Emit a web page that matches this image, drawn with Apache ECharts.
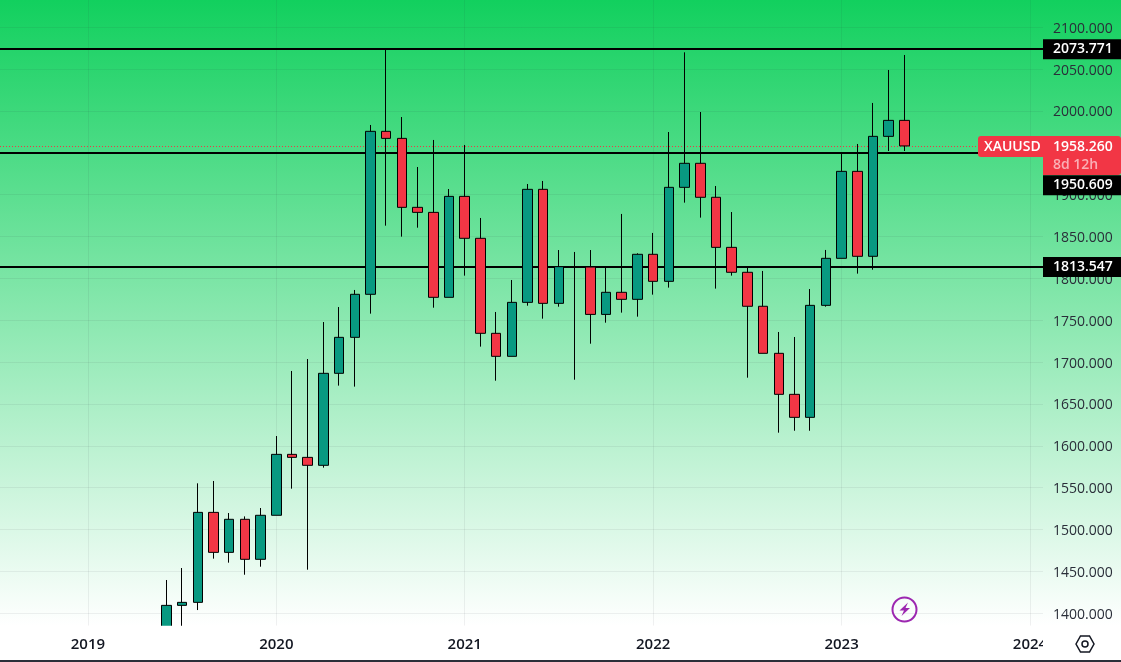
<!DOCTYPE html>
<html>
<head>
<meta charset="utf-8">
<style>html,body{margin:0;padding:0;background:#fff}#chart{width:1121px;height:662px}</style>
<script src="https://cdn.jsdelivr.net/npm/echarts@6/dist/echarts.min.js"></script>
</head>
<body>
<div id="chart"></div>
<script>
// XAUUSD monthly candles
const months = ['2019-06','2019-07','2019-08','2019-09','2019-10','2019-11','2019-12',
  '2020-01','2020-02','2020-03','2020-04','2020-05','2020-06','2020-07','2020-08','2020-09','2020-10','2020-11','2020-12',
  '2021-01','2021-02','2021-03','2021-04','2021-05','2021-06','2021-07','2021-08','2021-09','2021-10','2021-11','2021-12',
  '2022-01','2022-02','2022-03','2022-04','2022-05','2022-06','2022-07','2022-08','2022-09','2022-10','2022-11','2022-12',
  '2023-01','2023-02','2023-03','2023-04','2023-05'];
const opens = [1305,1409.4,1413,1520.5,1472.7,1512.2,1464.4,
  1517,1589.8,1586.2,1576.7,1686.6,1729.6,1781,1975.7,1967.3,1884.9,1878.9,1777.4,
  1898,1847.9,1734.4,1706.9,1771.4,1906.4,1770.2,1814,1813.6,1757,1783.4,1775,
  1828.8,1796.5,1908.8,1937.5,1896.9,1837.1,1807.3,1766.7,1710.5,1661.5,1634,1767.8,
  1824,1927.9,1826.4,1969.7,1988.8];
const closes = [1409.4,1413,1520.5,1472.7,1512.2,1464.4,1517,
  1589.8,1586.2,1576.7,1686.6,1729.6,1781,1975.7,1967.3,1884.9,1878.9,1777.4,1898,
  1847.9,1734.4,1706.9,1771.4,1906.4,1770.2,1814,1813.6,1757,1783.4,1775,1828.8,
  1796.5,1908.8,1937.5,1896.9,1837.1,1807.3,1766.7,1710.5,1661.5,1634,1767.8,1824,
  1927.9,1826.4,1969.7,1988.8,1958.26];
const lows = [1296,1381,1403.8,1465.2,1460.4,1446,1455.6,
  1517,1548.8,1452,1573.9,1671.9,1670.7,1757.9,1863,1849.9,1860.6,1765,1777.4,
  1803.3,1718.5,1677.8,1706.9,1767.4,1751.9,1766.2,1679,1722,1747.1,1759.1,1754.3,
  1780.6,1789,1890.5,1872.6,1787.8,1803.3,1681.4,1710.5,1615.7,1618,1618,1766.2,
  1824,1805.7,1810.4,1952.2,1952.2];
const highs = [1439.7,1454,1555.2,1558,1519.7,1515.7,1525.7,
  1611.7,1689.4,1703.7,1747.9,1765.8,1786.2,1983.3,2074,1992.8,1933.1,1965.4,1906.8,
  1959.4,1872.2,1759.9,1798.1,1912.8,1916.4,1833.9,1831.6,1833.9,1813.6,1877,1830,
  1854.3,1974.9,2070.1,1998.8,1910.4,1879.3,1813.6,1808.9,1736,1730,1787.3,1834,
  1951,1960.6,2009.6,2049,2066.9];
const yearLabels = ['2019','2020','2021','2022','2023','2024'];
const priceTicks = [1400,1450,1500,1550,1600,1650,1700,1750,1800,1850,1900,1950,2000,2050,2100];
const levels = [2073.771,1950.609,1813.547];
const lastPrice = 1958.26;
const symbol = 'XAUUSD';
const countdown = '8d 12h';

const UP = '#089981', DOWN = '#f23645', INK = '#131722';

// x is the number of months since January of the first labelled year
const monthIndex = s => (Number(s.slice(0,4)) - Number(yearLabels[0])) * 12 + Number(s.slice(5)) - 1;
const yearTicks = yearLabels.map((_, i) => i * 12);
const candles = months.map((m, i) => [monthIndex(m), opens[i], closes[i], lows[i], highs[i]]);

const chart = echarts.init(document.getElementById('chart'), null, {renderer:'canvas'});
const FONT = '"Open Sans", sans-serif';
const X_MIN = -5.6, X_MAX = 60.83;

const levelLine = (v, offset) => ({
  yAxis: v,
  lineStyle: {color:'#000', width:2, type:'solid'},
  label: {
    show:true, position:'end', distance:0, offset: offset,
    formatter: () => v.toFixed(3),
    color:'#fff', backgroundColor:'#000', fontFamily:FONT, fontSize:14, fontWeight:600,
    lineHeight:20, height:20, width:60, padding:[0,8,0,10], align:'left', verticalAlign:'middle'
  }
});

chart.setOption({
  animation:false,
  backgroundColor:{type:'linear',x:0,y:0,x2:0,y2:1,colorStops:[
    {offset:0,color:'#12d05e'},{offset:0.945,color:'#ffffff'},{offset:1,color:'#ffffff'}]},
  grid:{left:0,right:78,top:0,bottom:36.3,containLabel:false},
  xAxis:[{
    // vertical grid lines, behind the candles
    type:'value', min:X_MIN, max:X_MAX,
    axisLine:{show:false},
    axisTick:{show:false, customValues:yearTicks},
    splitLine:{show:true, lineStyle:{color:'rgba(42,46,57,0.07)',width:1}},
    axisLabel:{show:false}
  },{
    // year labels, above the strip that closes the bottom of the pane
    type:'value', position:'bottom', min:X_MIN, max:X_MAX, z:13,
    axisLine:{show:false},
    axisTick:{show:false},
    splitLine:{show:false},
    axisLabel:{customValues:yearTicks, formatter:v => yearLabels[v/12], color:INK,
      fontFamily:FONT, fontSize:15, fontWeight:600, margin:12, hideOverlap:false, showMinLabel:true, showMaxLabel:true}
  }],
  yAxis:{
    type:'value', position:'right', min:1385.1, max:2132.6,
    axisLine:{show:false},
    axisTick:{show:false, customValues:priceTicks},
    splitLine:{show:true, lineStyle:{color:'rgba(42,46,57,0.07)',width:1}},
    axisLabel:{customValues:priceTicks, formatter:v => `{p|${v.toFixed(3)}}`, margin:10, align:'left', hideOverlap:false,
      rich:{p:{color:'#2a2e39',fontFamily:FONT,fontSize:14,lineHeight:16,padding:[3,0,0,0]}}}
  },
  series:[{
    type:'candlestick', z:2, barWidth:10,
    dimensions:['month','open','close','low','high'],
    encode:{x:0,y:[1,2,3,4]},
    data:candles,
    itemStyle:{color:UP,color0:DOWN,borderColor:'#000',borderColor0:'#000',borderWidth:1},
    markLine:{
      silent:true, z:1, symbol:'none', animation:false,
      data:[
        levelLine(levels[0],[0,0]),
        levelLine(levels[1],[0,33]),
        levelLine(levels[2],[0,0]),
        {yAxis:lastPrice, lineStyle:{color:DOWN,width:1,type:[1,2]}, label:{show:false}}
      ]
    }
  }]
});

// Last-price tag, platform badge, settings button and frame edge
const tagY = chart.convertToPixel({yAxisIndex:0}, lastPrice);
const text = (x, y, s, fill, weight) => ({type:'text', z:20, style:{x, y, text:s, fill, font:`${weight} 14px ${FONT}`, verticalAlign:'middle', textVerticalAlign:'middle'}});
chart.setOption({graphic:[
  {type:'rect', z:12, shape:{x:0,y:625.7,width:1121,height:36.3}, style:{fill:'#fff'}},
  {type:'rect', z:14, shape:{x:1043,y:626,width:78,height:34}, style:{fill:'#fff'}},
  {type:'rect', z:19, shape:{x:978,y:tagY-10,width:66,height:21,r:[3,0,0,3]}, style:{fill:DOWN}},
  {type:'rect', z:19, shape:{x:1043,y:tagY-10,width:78,height:39,r:[0,3,3,0]}, style:{fill:DOWN}},
  text(984, tagY+1, symbol, '#fff', 600),
  text(1053, tagY+1, lastPrice.toFixed(3), '#fff', 600),
  text(1053, tagY+19, countdown, 'rgba(255,255,255,0.6)', 600),
  {type:'circle', z:15, shape:{cx:904.5,cy:609.5,r:12}, style:{fill:'none',stroke:'#9c27b0',lineWidth:2}},
  {type:'polygon', z:15, shape:{points:[[908,602.5],[899.5,610.5],[904,610.5],[901.5,616],[910,608],[905.5,608]]}, style:{fill:'#9c27b0'}},
  {type:'polygon', z:15, shape:{points:[[1076,644],[1080.5,636],[1089.5,636],[1094,644],[1089.5,652],[1080.5,652]]}, style:{fill:'none',stroke:INK,lineWidth:1.5}},
  {type:'circle', z:15, shape:{cx:1085,cy:644,r:3}, style:{fill:'none',stroke:INK,lineWidth:1.5}},
  {type:'rect', z:15, shape:{x:0,y:660,width:1121,height:2}, style:{fill:'#2a2e39'}}
]});
</script>
</body>
</html>
